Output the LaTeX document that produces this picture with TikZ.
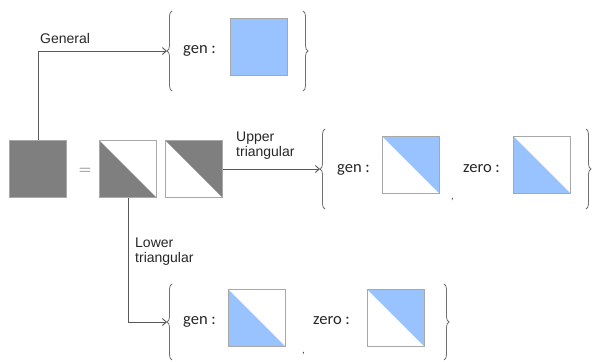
\documentclass[tikz,border=0pt]{standalone}
\usepackage{fontspec}
\setmainfont{Liberation Sans}
\newfontfamily\carl{Carlito}
\usetikzlibrary{arrows.meta,decorations.pathreplacing}
\definecolor{mgrey}{HTML}{7F7F7F}
\definecolor{mblue}{HTML}{99C3FF}
\definecolor{edgegrey}{HTML}{A8A8A8}
\definecolor{linegrey}{HTML}{595959}
\definecolor{bracegrey}{HTML}{707070}
\tikzset{
  sq/.style={draw=edgegrey,line width=0.9pt,minimum size=57pt,inner sep=0pt,fill=white},
  full/.style={sq,fill=#1},
  lowtri/.style={sq,path picture={\fill[#1] (path picture bounding box.north west) -- (path picture bounding box.south east) -- (path picture bounding box.south west) -- cycle;}},
  uptri/.style={sq,path picture={\fill[#1] (path picture bounding box.north west) -- (path picture bounding box.north east) -- (path picture bounding box.south east) -- cycle;}},
  conn/.style={draw=linegrey,line width=0.9pt,-{Straight Barb[length=4pt,width=7pt]}},
  brc/.style={draw=bracegrey,line width=0.8pt,decorate,decoration={brace,amplitude=5pt}},
  lbl/.style={inner sep=0pt,font=\fontsize{14}{15}\selectfont,align=left,anchor=north west,text=black!85},
  cl/.style={inner sep=0pt,font=\carl\fontsize{16.5}{18}\selectfont,anchor=base west,text=black!85},
  commastyle/.style={inner sep=0pt,font=\carl\fontsize{11}{12}\selectfont,anchor=base west,text=black!70}
}
\begin{document}
\begin{tikzpicture}[x=1pt,y=-1pt]
\useasboundingbox (0,0) rectangle (598,362);
% left side
\node[full=mgrey] (A) at (38,169) {};
\node[text=linegrey,font=\fontsize{16}{18}\selectfont] (eq) at (85,171) {$=$};
\node[lowtri=mgrey] (B) at (128,169) {};
\node[uptri=mgrey] (C) at (194,169) {};
% top set
\coordinate (t1) at (167,51);
\draw[brc] (172,91) -- (172,11);
\node[cl] (g1) at (183,53) {gen :};
\node[full=mblue] (T) at (259,47) {};
\draw[brc] (303,11) -- (303,91);
% upper set
\coordinate (t2) at (320,169);
\draw[brc] (325,209) -- (325,129);
\node[cl] (g2) at (337,172) {gen :};
\node[uptri=mblue] (U1) at (411,165) {};
\node[commastyle] (c2) at (451,199) {,};
\node[cl] (z2) at (463,172) {zero :};
\node[lowtri=mblue] (U2) at (542,165) {};
\draw[brc] (586,129) -- (586,209);
% lower set
\coordinate (t3) at (167,322);
\draw[brc] (172,360) -- (172,284);
\node[cl] (g3) at (183,324) {gen :};
\node[lowtri=mblue] (L1) at (257,318) {};
\node[commastyle] (c3) at (302,353) {,};
\node[cl] (z3) at (313,324) {zero :};
\node[uptri=mblue] (L2) at (396,318) {};
\draw[brc] (444,284) -- (444,360);
% labels
\node[inner sep=0pt,font=\fontsize{14}{15}\selectfont,anchor=base west,text=black!85] (lg) at (40,43) {General};
\node[lbl] (lu) at (236,132) {Upper\\triangular};
\node[lbl] (ll) at (135,238) {Lower\\triangular};
% connectors
\draw[conn] (A.north) |- (t1);
\draw[conn] (C.east) -- (t2);
\draw[conn] (B.south) |- (t3);
\end{tikzpicture}
\end{document}
